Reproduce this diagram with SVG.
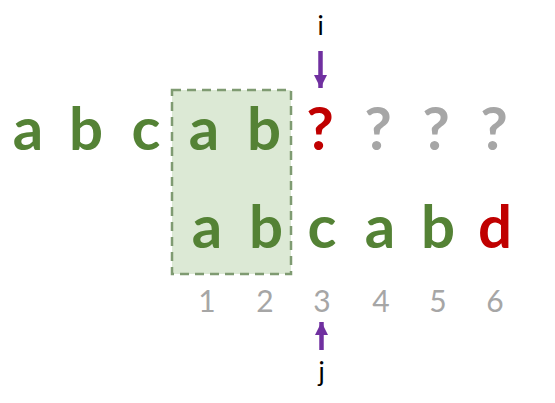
<svg xmlns="http://www.w3.org/2000/svg" width="555" height="403" viewBox="0 0 555 403">
<style>
.l{font-family:Lato,"Open Sans",sans-serif;font-weight:bold;font-size:60px;text-anchor:middle}
.g{fill:#548235}.r{fill:#c00000}.q{fill:#a6a6a6}
.n{font-family:Lato,"Open Sans",sans-serif;font-size:30px;fill:#a6a6a6;text-anchor:middle}
.p{font-family:Lato,"Open Sans",sans-serif;font-size:26px;fill:#000;text-anchor:middle}
.ar{stroke:#7030a0;stroke-width:4.5;fill:none}
</style>
<defs>
<marker id="ah" viewBox="0 0 13 13" refX="13" refY="6.5" markerWidth="13" markerHeight="13" markerUnits="userSpaceOnUse" orient="auto">
<path d="M0,0 L13,6.5 L0,13 Z" fill="#7030a0"/>
</marker>
</defs>
<g id="window">
<rect x="172" y="90" width="119" height="184" fill="#dce9d5" stroke="#7f9b72" stroke-width="2.5" stroke-dasharray="9,6"/>
</g>
<g id="text-row">
<text class="l g" x="28" y="150">a</text>
<text class="l g" x="86" y="150">b</text>
<text class="l g" x="146" y="150">c</text>
<text class="l g" x="204" y="150">a</text>
<text class="l g" x="264" y="150">b</text>
<text class="l r" x="320" y="150">?</text>
<text class="l q" x="378" y="150">?</text>
<text class="l q" x="436" y="150">?</text>
<text class="l q" x="494" y="150">?</text>
</g>
<g id="pattern-row">
<text class="l g" x="207" y="248">a</text>
<text class="l g" x="266" y="248">b</text>
<text class="l g" x="322" y="248">c</text>
<text class="l g" x="380" y="248">a</text>
<text class="l g" x="438" y="248">b</text>
<text class="l r" x="495" y="248">d</text>
</g>
<g id="indices">
<text class="n" x="207" y="312">1</text>
<text class="n" x="265" y="312">2</text>
<text class="n" x="322" y="312">3</text>
<text class="n" x="381" y="312">4</text>
<text class="n" x="438" y="312">5</text>
<text class="n" x="495" y="312">6</text>
</g>
<g id="pointer-i">
<text class="p" x="320.5" y="35">i</text>
</g>
<g id="pointer-j">
<text class="p" x="321.5" y="381">j</text>
</g>
<g id="connectors">
<line class="ar" x1="320.5" y1="51" x2="320.5" y2="88" marker-end="url(#ah)"/>
<line class="ar" x1="321.5" y1="350" x2="321.5" y2="322" marker-end="url(#ah)"/>
</g>
</svg>
